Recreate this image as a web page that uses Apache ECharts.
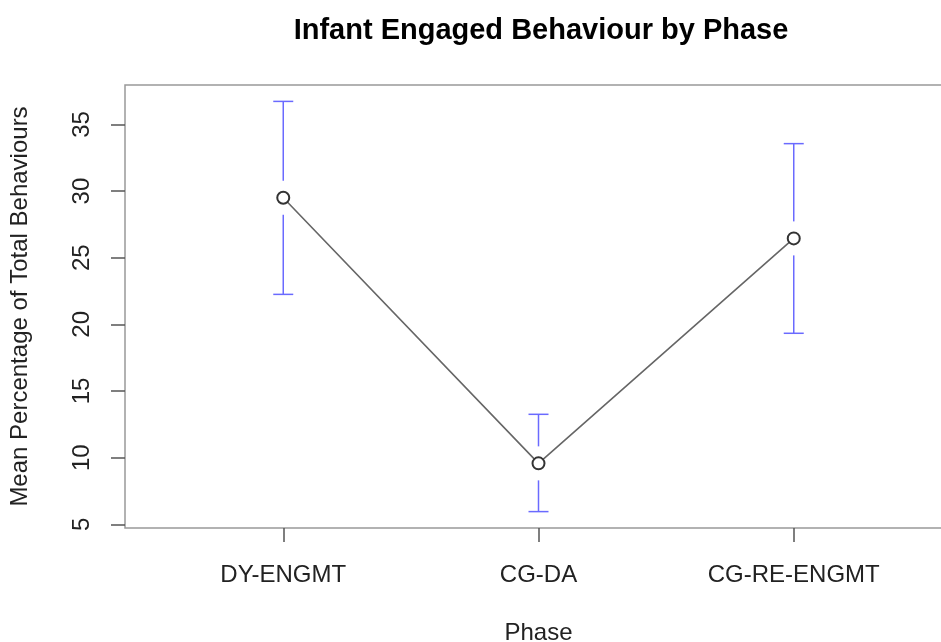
<!DOCTYPE html>
<html>
<head>
<meta charset="utf-8">
<script src="https://cdn.jsdelivr.net/npm/echarts@6/dist/echarts.min.js"></script>
<style>
html, body { margin: 0; padding: 0; background: #fff; }
#main { width: 941px; height: 642px; }
</style>
</head>
<body>
<div id="main"></div>
<script>
// phases along the x axis
var phases = ['DY-ENGMT', 'CG-DA', 'CG-RE-ENGMT']
var phasePos = [1, 2, 3]
// mean % with error bar ends
var means = [29.5, 9.57, 26.45]
var lower = [22.25, 5.95, 19.33]
var upper = [36.73, 13.25, 33.56]
var yTicks = [5, 10, 15, 20, 25, 30, 35]

var font = 'Liberation Sans, Arial, Helvetica, sans-serif'
var barColor = '#6a6aff'

var lineData = []
var barData = []
for (var i = 0; i < phases.length; i++) {
	lineData.push([phasePos[i], means[i]])
	barData.push([phasePos[i], lower[i], upper[i], means[i]])
}

var chart = echarts.init(document.getElementById('main'), null, { renderer: 'canvas' })

var option = {
	animation: false,
	backgroundColor: '#fff',
	title: {
		text: 'Infant Engaged Behaviour by Phase',
		left: 536,
		textAlign: 'center',
		top: 11,
		textStyle: { fontFamily: font, fontSize: 29, fontWeight: 'bold', color: '#000' }
	},
	grid: {
		left: 125, top: 85, right: -11, bottom: 114,
		containLabel: false,
		outerBoundsMode: 'none',
		show: true, borderColor: '#999', borderWidth: 1.5
	},
	xAxis: {
		type: 'value',
		min: 0.38, max: 3.62,
		name: 'Phase',
		nameLocation: 'middle',
		nameGap: 93,
		nameTextStyle: { fontFamily: font, fontSize: 24, color: '#222' },
		splitLine: { show: false },
		axisLine: { show: false },
		axisTick: { show: true, inside: false, length: 14, customValues: phasePos, lineStyle: { color: '#555', width: 1.5 } },
		axisLabel: {
			customValues: phasePos,
			margin: 35,
			fontFamily: font, fontSize: 24, color: '#222',
			formatter: function (v) { return phases[Math.round(v) - 1] || '' }
		}
	},
	yAxis: {
		type: 'value',
		min: 4.72, max: 37.96,
		name: 'Mean Percentage of Total Behaviours',
		nameLocation: 'middle',
		nameGap: 93,
		nameTextStyle: { fontFamily: font, fontSize: 24, color: '#222' },
		splitLine: { show: false },
		axisLine: { show: false },
		axisTick: { show: true, length: 14, customValues: yTicks, lineStyle: { color: '#555', width: 1.5 } },
		axisLabel: {
			customValues: yTicks,
			rotate: 90,
			margin: 31,
			fontFamily: font, fontSize: 24, color: '#222'
		}
	},
	series: [
		{
			type: 'custom',
			data: barData,
			z: 2,
			renderItem: function (params, api) {
				var x = api.value(0)
				var lo = api.coord([x, api.value(1)])
				var hi = api.coord([x, api.value(2)])
				var mid = api.coord([x, api.value(3)])
				var gap = 17, cap = 10
				var st = { stroke: barColor, lineWidth: 1.5 }
				return {
					type: 'group',
					children: [
						{ type: 'line', shape: { x1: hi[0], y1: hi[1], x2: mid[0], y2: mid[1] - gap }, style: st },
						{ type: 'line', shape: { x1: mid[0], y1: mid[1] + gap, x2: lo[0], y2: lo[1] }, style: st },
						{ type: 'line', shape: { x1: hi[0] - cap, y1: hi[1], x2: hi[0] + cap, y2: hi[1] }, style: st },
						{ type: 'line', shape: { x1: lo[0] - cap, y1: lo[1], x2: lo[0] + cap, y2: lo[1] }, style: st }
					]
				}
			}
		},
		{
			type: 'line',
			data: lineData,
			z: 3,
			symbol: 'emptyCircle',
			symbolSize: 12,
			lineStyle: { color: '#666', width: 1.6 },
			itemStyle: { color: '#333', borderColor: '#333', borderWidth: 1.6 }
		}
	]
}
chart.setOption(option)
</script>
</body>
</html>
